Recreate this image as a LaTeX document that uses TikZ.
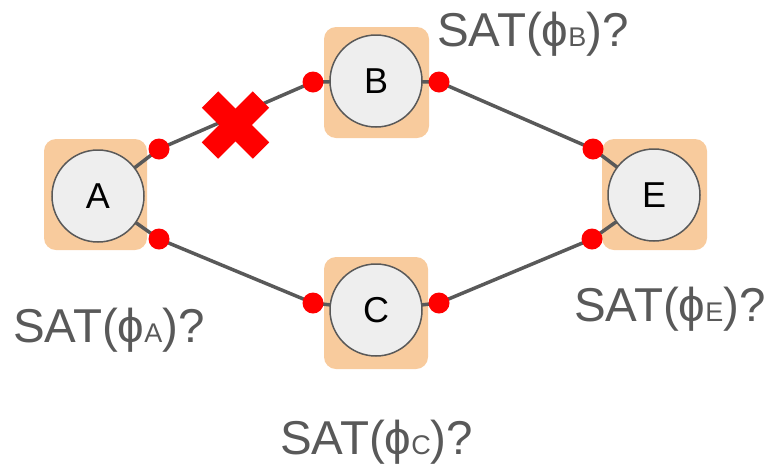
\documentclass[tikz,border=0pt]{standalone}
\usepackage{fontspec}
\setmainfont{Liberation Sans}
\usetikzlibrary{calc}
\definecolor{edgegray}{HTML}{595959}
\definecolor{peach}{HTML}{F8CB9D}
\definecolor{nodefill}{HTML}{EEEEEE}
\definecolor{dotred}{HTML}{FF0000}
\newcommand{\satlabel}[1]{SAT(\char"03D5{\fontsize{27}{27}\selectfont #1})?}
\begin{document}
\begin{tikzpicture}[x=1pt,y=-1pt,
  backbox/.style={fill=peach,rounded corners=12pt,draw=none},
  agent/.style={circle,draw=edgegray,line width=1.5pt,fill=nodefill,minimum size=92pt,inner sep=0pt,font=\fontsize{36}{36}\selectfont},
  link/.style={draw=edgegray,line width=3.5pt},
  port/.style={circle,fill=dotred,minimum size=21pt,inner sep=0pt},
  satlab/.style={text=edgegray,font=\fontsize{47.5}{47.5}\selectfont,inner sep=0pt,anchor=base west}]
\useasboundingbox (0,0) rectangle (770,464);
% background squares
\fill[backbox] (44,139) rectangle (147,250);
\fill[backbox] (324,27) rectangle (429,138);
\fill[backbox] (324,257) rectangle (428,369);
\fill[backbox] (602,139) rectangle (707,250);
% port coordinates
\coordinate (pa1) at (159,149);
\coordinate (pa2) at (159,239);
\coordinate (pb1) at (313,82);
\coordinate (pb2) at (439,82);
\coordinate (pc1) at (313,303);
\coordinate (pc2) at (439,303);
\coordinate (pe1) at (593,149);
\coordinate (pe2) at (592,239);
% links
\draw[link] (98,196) -- (pa1) -- (pb1) -- (376,81);
\draw[link] (98,196) -- (pa2) -- (pc1) -- (376,310);
\draw[link] (376,81) -- (pb2) -- (pe1) -- (654,195);
\draw[link] (376,310) -- (pc2) -- (pe2) -- (654,195);
% agents
\node[agent] (A) at (98,196) {A};
\node[agent] (B) at (376,81) {B};
\node[agent] (C) at (376,310) {C};
\node[agent] (E) at (654,195) {E};
% ports
\foreach \p in {pa1,pa2,pb1,pb2,pc1,pc2,pe1,pe2} \node[port] at (\p) {};
% cross
\coordinate (x) at (235.5,125);
\draw[dotred,line width=23pt] ($(x)+(-25.5,-25.5)$) -- ($(x)+(25.5,25.5)$);
\draw[dotred,line width=23pt] ($(x)+(-25.5,25.5)$) -- ($(x)+(25.5,-25.5)$);
% labels
\node[satlab] (la) at (13,342) {\satlabel{A}};
\node[satlab] (lb) at (437,46) {\satlabel{B}};
\node[satlab] (le) at (574,321) {\satlabel{E}};
\node[satlab] (lc) at (280,454) {\satlabel{C}};
\end{tikzpicture}
\end{document}
